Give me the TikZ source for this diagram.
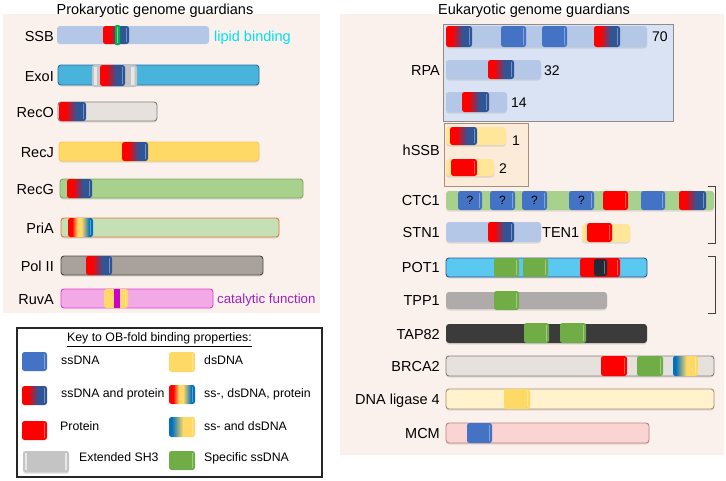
\documentclass[tikz,border=0pt]{standalone}
\usepackage{fontspec}
\setmainfont{Liberation Sans}
\usetikzlibrary{shadows}
\definecolor{bgc}{HTML}{FBF1EC}
\definecolor{obblue}{HTML}{4472C4}
\definecolor{obdark}{HTML}{2F5597}
\definecolor{obred}{HTML}{FF0000}
\definecolor{obgreen}{HTML}{70AD47}
\definecolor{obyel}{HTML}{FFD966}
\definecolor{obssds}{HTML}{0070C0}
\definecolor{obgrey}{HTML}{C4C4C4}
\definecolor{ltblue}{HTML}{B4C7E7}
\definecolor{exoblue}{HTML}{48B4DC}
\definecolor{exoedge}{HTML}{2E6E9E}
\definecolor{lgrey}{HTML}{E7E1DE}
\definecolor{mgrey}{HTML}{7F7F7F}
\definecolor{ltgreen}{HTML}{A9D18E}
\definecolor{greenedge}{HTML}{7EA860}
\definecolor{paleg}{HTML}{C5E0B4}
\definecolor{orangeedge}{HTML}{E07B39}
\definecolor{polgrey}{HTML}{A9A19B}
\definecolor{pink}{HTML}{F3A9E6}
\definecolor{pinkedge}{HTML}{E040D0}
\definecolor{magstripe}{HTML}{CC00CC}
\definecolor{purpletext}{HTML}{A020C0}
\definecolor{cyantext}{HTML}{00E0F0}
\definecolor{rpabox}{HTML}{DAE3F3}
\definecolor{ssbbox}{HTML}{FCEBD9}
\definecolor{paley}{HTML}{FFE699}
\definecolor{potblue}{HTML}{5BC8F0}
\definecolor{tppgrey}{HTML}{AFABAB}
\definecolor{tapdark}{HTML}{3B3B3B}
\definecolor{ligfill}{HTML}{FFF2CC}
\definecolor{ligedge}{HTML}{A09070}
\definecolor{mcmfill}{HTML}{FAD4D2}
\definecolor{mcmedge}{HTML}{C08080}
\definecolor{potdark}{HTML}{222A35}
\definecolor{ssbgreen}{HTML}{00B050}
\pgfdeclarehorizontalshading{rbsh}{100bp}{color(0bp)=(obred); color(37bp)=(obred); color(57bp)=(obdark); color(100bp)=(obdark)}
\pgfdeclarehorizontalshading{sdpsh}{100bp}{color(0bp)=(obred); color(33bp)=(obred); color(44bp)=(obyel); color(52bp)=(obyel); color(68bp)=(obssds); color(100bp)=(obssds)}
\pgfdeclarehorizontalshading{sdsh}{100bp}{color(0bp)=(obssds); color(30bp)=(obssds); color(52bp)=(obyel); color(100bp)=(obyel)}
\newcommand\obd[5]{%
  \path[dom,#1] (#2,#4) rectangle (#3,#5);
  \fill[white,opacity=.35] ({#3-3.5},{#4+2}) rectangle ({#3-2},{#5-2});
}
\tikzset{
  bar/.style={rounded corners=3pt, line width=0.9pt, drop shadow={shadow xshift=0pt, shadow yshift=-1.5pt, opacity=.22}},
  dom/.style={rounded corners=2.5pt},
  dblue/.style={fill=obblue},
  dred/.style={fill=obred},
  dgreen/.style={fill=obgreen},
  dyel/.style={fill=obyel},
  drb/.style={shading=rbsh},
  dsdp/.style={shading=sdpsh},
  dsd/.style={shading=sdsh},
  dgrey/.style={fill=obgrey},
  lab/.style={anchor=east, inner sep=0pt, font=\fontsize{14.5}{16}\selectfont, text height=10.4pt, text depth=0pt},
  num/.style={anchor=west, inner sep=0pt, font=\fontsize{14}{16}\selectfont, text height=10pt, text depth=0pt},
  ttl/.style={inner sep=0pt, font=\fontsize{14.5}{16}\selectfont, text height=10.4pt, text depth=0pt},
  leg/.style={anchor=west, inner sep=0pt, font=\fontsize{12.3}{14}\selectfont, text height=8.8pt, text depth=0pt},
  q/.style={inner sep=0pt, font=\fontsize{12}{14}\selectfont, text height=8.6pt, text depth=0pt},
  brk/.style={line width=1pt, draw=black!75},
}
\begin{document}
\begin{tikzpicture}[x=1pt,y=-1pt]
\useasboundingbox (0,0) rectangle (726,480);
\fill[white] (0,0) rectangle (726,480);
% panels
\fill[bgc] (3,14) rectangle (320,313);
\fill[bgc] (340,14) rectangle (724,455);
\node[ttl] (tpro) at (155,9) {Prokaryotic genome guardians};
\node[ttl] (teuk) at (534,9) {Eukaryotic genome guardians};

% ---------------- prokaryotic ----------------
% SSB
\path[rounded corners=3pt, fill=ltblue] (57,26) rectangle (209,44);
\obd{drb}{103}{129}{26}{44}
\fill[ssbgreen, rounded corners=1pt] (115,25) rectangle (120,45);
\fill[white,opacity=.45] (117,27) rectangle (118,43);
\node[lab] (lSSB) at (54,36) {SSB};
\node[anchor=west, inner sep=0pt, font=\fontsize{14.5}{16}\selectfont, text height=10.4pt, text depth=0pt, text=cyantext] (lipid) at (214,36) {lipid binding};
% ExoI
\path[bar, fill=exoblue, draw=exoedge] (58,65) rectangle (259,85);
\obd{dgrey}{92}{137}{65}{87}
\fill[white,opacity=.6] (94,67) rectangle (97,85);
\fill[white,opacity=.6] (131,67) rectangle (134,85);
\obd{drb}{100}{125}{65}{86}
\node[lab] (lExoI) at (54,76) {ExoI};
% RecO
\path[bar, fill=lgrey, draw=mgrey] (58,102) rectangle (157,121);
\obd{drb}{59}{86}{102}{121}
\node[lab] (lRecO) at (54,112) {RecO};
% RecJ
\path[bar, fill=obyel, draw=obyel!80!orange] (59,142) rectangle (259,161);
\obd{drb}{122}{148}{142}{161}
\node[lab] (lRecJ) at (54,152) {RecJ};
% RecG
\path[bar, fill=ltgreen, draw=greenedge] (60,179) rectangle (303,198);
\obd{drb}{67}{92}{179}{198}
\node[lab] (lRecG) at (54,189) {RecG};
% PriA
\path[bar, fill=paleg, draw=orangeedge] (61,218) rectangle (279,237);
\obd{dsdp}{68}{93}{218}{237}
\node[lab] (lPriA) at (54,228) {PriA};
% Pol II
\path[bar, fill=polgrey, draw=black!70] (61,256) rectangle (263,275);
\obd{drb}{86}{112}{256}{275}
\node[lab] (lPol) at (54,266) {Pol II};
% RuvA
\path[rounded corners=3pt, line width=0.9pt, fill=pink, draw=pinkedge] (61,289) rectangle (213,308);
\obd{dyel}{104}{128}{289}{308}
\fill[magstripe] (114,289) rectangle (120,308);
\node[lab] (lRuvA) at (54,299) {RuvA};
\node[anchor=west, inner sep=0pt, font=\fontsize{13.3}{16}\selectfont, text height=9.6pt, text depth=0pt, text=purpletext] (cat) at (217,299) {catalytic function};

% ---------------- legend ----------------
\path[fill=white, draw=black!85, line width=1.3pt] (17,328) rectangle (322,477);
\node[ttl, font=\fontsize{12.3}{14}\selectfont, text height=8.8pt] (ktitle) at (159.5,337.5) {\underline{Key to OB-fold binding properties:}};
\obd{dblue}{22}{47}{352}{371}
\node[leg] (k1) at (61,360) {ssDNA};
\obd{drb}{22}{47}{386}{405}
\node[leg] (k2) at (61,393) {ssDNA and protein};
\obd{dred}{22}{47}{421}{440}
\node[leg] (k3) at (60,426) {Protein};
\path[dom, fill=obgrey, drop shadow={shadow xshift=0pt, shadow yshift=-1.5pt, opacity=.3}] (23,451) rectangle (69,472);
\fill[white,opacity=.6] (25,453) rectangle (27,470);
\fill[white,opacity=.6] (65,453) rectangle (67,470);
\node[leg] (k4) at (79,457) {Extended SH3};
\obd{dyel}{169}{195}{352}{372}
\node[leg] (k5) at (204,360) {dsDNA};
\obd{dsdp}{169}{195}{385}{404}
\node[leg] (k6) at (204,393) {ss-, dsDNA, protein};
\obd{dsd}{169}{195}{417}{437}
\node[leg] (k7) at (204,426) {ss- and dsDNA};
\obd{dgreen}{169}{195}{451}{470}
\node[leg] (k8) at (204,457) {Specific ssDNA};

% ---------------- eukaryotic ----------------
% RPA box
\path[fill=rpabox, draw=black!45, line width=0.8pt] (443,24) rectangle (673,121);
\node[lab] (lRPA) at (440,70.5) {RPA};
\path[bar, fill=ltblue] (446,26) rectangle (647,47);
\obd{drb}{446}{472}{26}{47}
\obd{dblue}{501}{526}{26}{47}
\obd{dblue}{542}{567}{26}{47}
\obd{drb}{594}{620}{26}{47}
\node[num] (n70) at (652,36.5) {70};
\path[bar, fill=ltblue] (446,60) rectangle (541,79);
\obd{drb}{488}{514}{60}{79}
\node[num] (n32) at (544,70.5) {32};
\path[bar, fill=ltblue] (446,92) rectangle (507,112);
\obd{drb}{462}{489}{92}{112}
\node[num] (n14) at (511,102.5) {14};
% hSSB box
\path[fill=ssbbox, draw=black!45!brown!60, line width=0.8pt] (444,123) rectangle (528,186);
\node[lab] (lhSSB) at (440,150.5) {hSSB};
\path[bar, fill=paley] (446,127) rectangle (506,145);
\obd{drb}{450}{477}{127}{145}
\node[num] (n1) at (512,140.5) {1};
\path[bar, fill=paley] (446,159) rectangle (494,176);
\obd{dred}{451}{477}{159}{176}
\node[num] (n2) at (499,168) {2};
% CTC1
\path[bar, fill=ltgreen] (446,191) rectangle (714,210);
\obd{dblue}{458}{482}{191}{210}
\obd{dblue}{490}{515}{191}{210}
\obd{dblue}{522}{547}{191}{210}
\obd{dblue}{569}{594}{191}{210}
\obd{dred}{603}{628}{191}{210}
\obd{dblue}{641}{665}{191}{210}
\obd{drb}{679}{706}{191}{210}
\node[q] (q1) at (470,200.5) {?};
\node[q] (q2) at (502.5,200.5) {?};
\node[q] (q3) at (534.5,200.5) {?};
\node[q] (q4) at (581.5,200.5) {?};
\node[lab] (lCTC1) at (440,200.5) {CTC1};
% STN1 / TEN1
\path[bar, fill=ltblue] (446,222) rectangle (541,242);
\obd{drb}{488}{514}{222}{242}
\node[lab] (lSTN1) at (440,232) {STN1};
\node[anchor=west, inner sep=0pt, font=\fontsize{14.5}{16}\selectfont, text height=10.4pt, text depth=0pt] (lTEN1) at (542,232) {TEN1};
\path[bar, fill=paley] (582,224) rectangle (630,242);
\obd{dred}{587}{612}{223}{242}
% bracket 1
\coordinate (b1a) at (708,186);
\coordinate (b1b) at (715,186);
\coordinate (b1c) at (715,243);
\coordinate (b1d) at (708,243);
\draw[brk] (b1a) -- (b1b) -- (b1c) -- (b1d);
% POT1
\path[bar, fill=potblue, draw=obdark] (446,258) rectangle (647,277);
\obd{dgreen}{494}{519}{258}{277}
\obd{dgreen}{523}{548}{258}{277}
\obd{dred}{580}{620}{258}{277}
\obd{fill=potdark}{594}{607}{259}{276}
\node[lab] (lPOT1) at (440,267.5) {POT1};
% TPP1
\path[bar, fill=tppgrey] (446,292) rectangle (607,309);
\obd{dgreen}{494}{519}{291}{310}
\node[lab] (lTPP1) at (440,300.5) {TPP1};
% bracket 2
\coordinate (b2a) at (708,256);
\coordinate (b2b) at (715,256);
\coordinate (b2c) at (715,313);
\coordinate (b2d) at (708,313);
\draw[brk] (b2a) -- (b2b) -- (b2c) -- (b2d);
% TAP82
\path[bar, fill=tapdark] (446,324) rectangle (647,343);
\obd{dgreen}{524}{549}{323}{343}
\obd{dgreen}{560}{586}{323}{343}
\node[lab] (lTAP82) at (440,334) {TAP82};
% BRCA2
\path[bar, fill=lgrey, draw=mgrey] (446,356) rectangle (714,376);
\obd{dred}{601}{627}{356}{376}
\obd{dgreen}{637}{663}{356}{376}
\obd{dsd}{673}{698}{356}{376}
\node[lab] (lBRCA2) at (440,366) {BRCA2};
% DNA ligase 4
\path[bar, fill=ligfill, draw=ligedge] (446,389) rectangle (714,409);
\obd{dyel}{504}{530}{389}{409}
\node[lab] (lLig) at (440,399) {DNA ligase 4};
% MCM
\path[bar, fill=mcmfill, draw=mcmedge] (446,423) rectangle (649,443);
\obd{dblue}{467}{492}{423}{443}
\node[lab] (lMCM) at (440,433) {MCM};
\end{tikzpicture}
\end{document}
